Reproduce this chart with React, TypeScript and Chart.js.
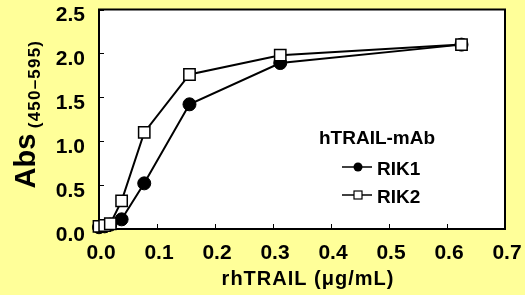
import React, { useEffect, useRef } from "react";
import { Chart, registerables } from "chart.js";

Chart.register(...registerables);

const concentrations = [0, 0.0098, 0.0195, 0.039, 0.078, 0.156, 0.3125, 0.625];
const rik1Values = [0.02, 0.03, 0.05, 0.11, 0.52, 1.42, 1.89, 2.1];
const rik2Values = [0.03, 0.04, 0.06, 0.32, 1.1, 1.76, 1.98, 2.1];
const seriesLabels = ["RIK1", "RIK2"];
const legendTitle = "hTRAIL-mAb";
const xTitle = "rhTRAIL (\u03bcg/mL)";
const yTitleMain = "Abs";
const yTitleSub = "(450\u2013595)";
const xTicks = [0, 0.1, 0.2, 0.3, 0.4, 0.5, 0.6, 0.7];
const yTicks = [0, 0.5, 1.0, 1.5, 2.0, 2.5];

const FONT = "'Liberation Sans', Arial, sans-serif";
const BG = "#FFFF99";

const decorPlugin = {
  id: "decor",
  beforeDraw(chart: any) {
    const { ctx, chartArea } = chart;
    ctx.save();
    ctx.fillStyle = BG;
    ctx.fillRect(0, 0, chart.width, chart.height);
    ctx.fillStyle = "#ffffff";
    ctx.fillRect(chartArea.left, chartArea.top, chartArea.right - chartArea.left, chartArea.bottom - chartArea.top);
    ctx.restore();
  },
  beforeDatasetsDraw(chart: any) {
    const { ctx, chartArea, scales } = chart;
    ctx.save();
    ctx.strokeStyle = "#000";
    ctx.lineWidth = 1;
    xTicks.forEach((v) => {
      const px = Math.round(scales.x.getPixelForValue(v)) + 0.5;
      ctx.beginPath();
      ctx.moveTo(px, chartArea.bottom);
      ctx.lineTo(px, chartArea.bottom - 5);
      ctx.stroke();
    });
    yTicks.forEach((v) => {
      const py = Math.round(scales.y.getPixelForValue(v)) + 0.5;
      ctx.beginPath();
      ctx.moveTo(chartArea.left, py);
      ctx.lineTo(chartArea.left + 5, py);
      ctx.stroke();
    });
    ctx.lineWidth = 2;
    ctx.strokeRect(chartArea.left, chartArea.top, chartArea.right - chartArea.left, chartArea.bottom - chartArea.top);
    ctx.restore();
  },
  afterDatasetsDraw(chart: any) {
    const { ctx } = chart;
    ctx.save();
    ctx.fillStyle = "#000";
    ctx.textAlign = "center";
    ctx.textBaseline = "alphabetic";
    ctx.font = `bold 20px ${FONT}`;
    (ctx as any).letterSpacing = "1px";
    ctx.fillText(xTitle, 308, 285);
    (ctx as any).letterSpacing = "0px";

    ctx.save();
    ctx.translate(35, 161);
    ctx.rotate(-Math.PI / 2);
    ctx.font = `bold 29px ${FONT}`;
    ctx.fillText(yTitleMain, 0, 0);
    ctx.restore();

    ctx.save();
    ctx.translate(40, 84);
    ctx.rotate(-Math.PI / 2);
    ctx.font = `bold 17px ${FONT}`;
    (ctx as any).letterSpacing = "1.2px";
    ctx.fillText(yTitleSub, 0, 0);
    ctx.restore();

    ctx.font = `bold 19px ${FONT}`;
    ctx.textAlign = "left";
    ctx.textBaseline = "middle";
    ctx.fillText(legendTitle, 319, 139);
    const rows = [167, 195];
    chart.data.datasets.forEach((ds: any, i: number) => {
      const y = rows[i];
      ctx.strokeStyle = "#000";
      ctx.lineWidth = 1.5;
      ctx.beginPath();
      ctx.moveTo(342, y);
      ctx.lineTo(372, y);
      ctx.stroke();
      ctx.lineWidth = 1.2;
      if (ds.pointStyle === "circle") {
        ctx.fillStyle = "#000";
        ctx.beginPath();
        ctx.arc(358, y, 4.5, 0, Math.PI * 2);
        ctx.fill();
      } else {
        ctx.fillStyle = "#fff";
        ctx.fillRect(354, y - 4, 8, 8);
        ctx.strokeRect(354, y - 4, 8, 8);
      }
      ctx.fillStyle = "#000";
      ctx.fillText(ds.label, 377, y + 3);
    });
    ctx.restore();
  },
};

export default function App() {
  const canvasRef = useRef<HTMLCanvasElement>(null);

  useEffect(() => {
    if (!canvasRef.current) return;
    const chart = new Chart(canvasRef.current, {
      type: "scatter",
      data: {
        datasets: [
          {
            label: seriesLabels[0],
            data: concentrations.map((x, i) => ({ x, y: rik1Values[i] })),
            showLine: true,
            clip: false,
            borderColor: "#000",
            borderWidth: 2,
            pointStyle: "circle",
            pointRadius: 6.5,
            pointBackgroundColor: "#000",
            pointBorderColor: "#000",
            pointBorderWidth: 1,
            order: 2,
          },
          {
            label: seriesLabels[1],
            data: concentrations.map((x, i) => ({ x, y: rik2Values[i] })),
            showLine: true,
            clip: false,
            borderColor: "#000",
            borderWidth: 2,
            pointStyle: "rect",
            pointRadius: 8,
            pointBackgroundColor: "#fff",
            pointBorderColor: "#000",
            pointBorderWidth: 1.5,
            order: 1,
          },
        ],
      },
      options: {
        responsive: false,
        animation: false,
        devicePixelRatio: 1,
        layout: { padding: { top: 9, right: 20, left: 0, bottom: 0 } },
        plugins: { legend: { display: false }, tooltip: { enabled: false } },
        scales: {
          x: {
            type: "linear",
            min: 0,
            max: 0.7,
            afterBuildTicks: (scale: any) => {
              scale.ticks = xTicks.map((v) => ({ value: v }));
            },
            afterFit: (scale: any) => {
              scale.height = 66;
              scale.paddingLeft = 0;
              scale.paddingRight = 0;
            },
            ticks: {
              callback: (v: any) => Number(v).toFixed(1),
              font: { family: FONT, size: 21, weight: "bold" },
              color: "#000",
              padding: 12,
              labelOffset: 2,
              maxRotation: 0,
            },
            grid: { display: false, drawTicks: false },
            border: { display: false },
          },
          y: {
            type: "linear",
            min: 0,
            max: 2.5,
            afterBuildTicks: (scale: any) => {
              scale.ticks = yTicks.map((v) => ({ value: v }));
            },
            afterFit: (scale: any) => {
              scale.width = 99;
              scale.paddingTop = 0;
              scale.paddingBottom = 0;
            },
            ticks: {
              callback: (v: any) => Number(v).toFixed(1),
              font: { family: FONT, size: 21, weight: "bold" },
              color: "#000",
              padding: 14,
              labelOffset: 6,
            },
            grid: { display: false, drawTicks: false },
            border: { display: false },
          },
        },
      },
      plugins: [decorPlugin],
    } as any);
    return () => chart.destroy();
  }, []);

  return (
    <div style={{ position: "absolute", left: 0, top: 0, width: 525, height: 295 }}>
      <canvas ref={canvasRef} width={525} height={295} />
    </div>
  );
}
